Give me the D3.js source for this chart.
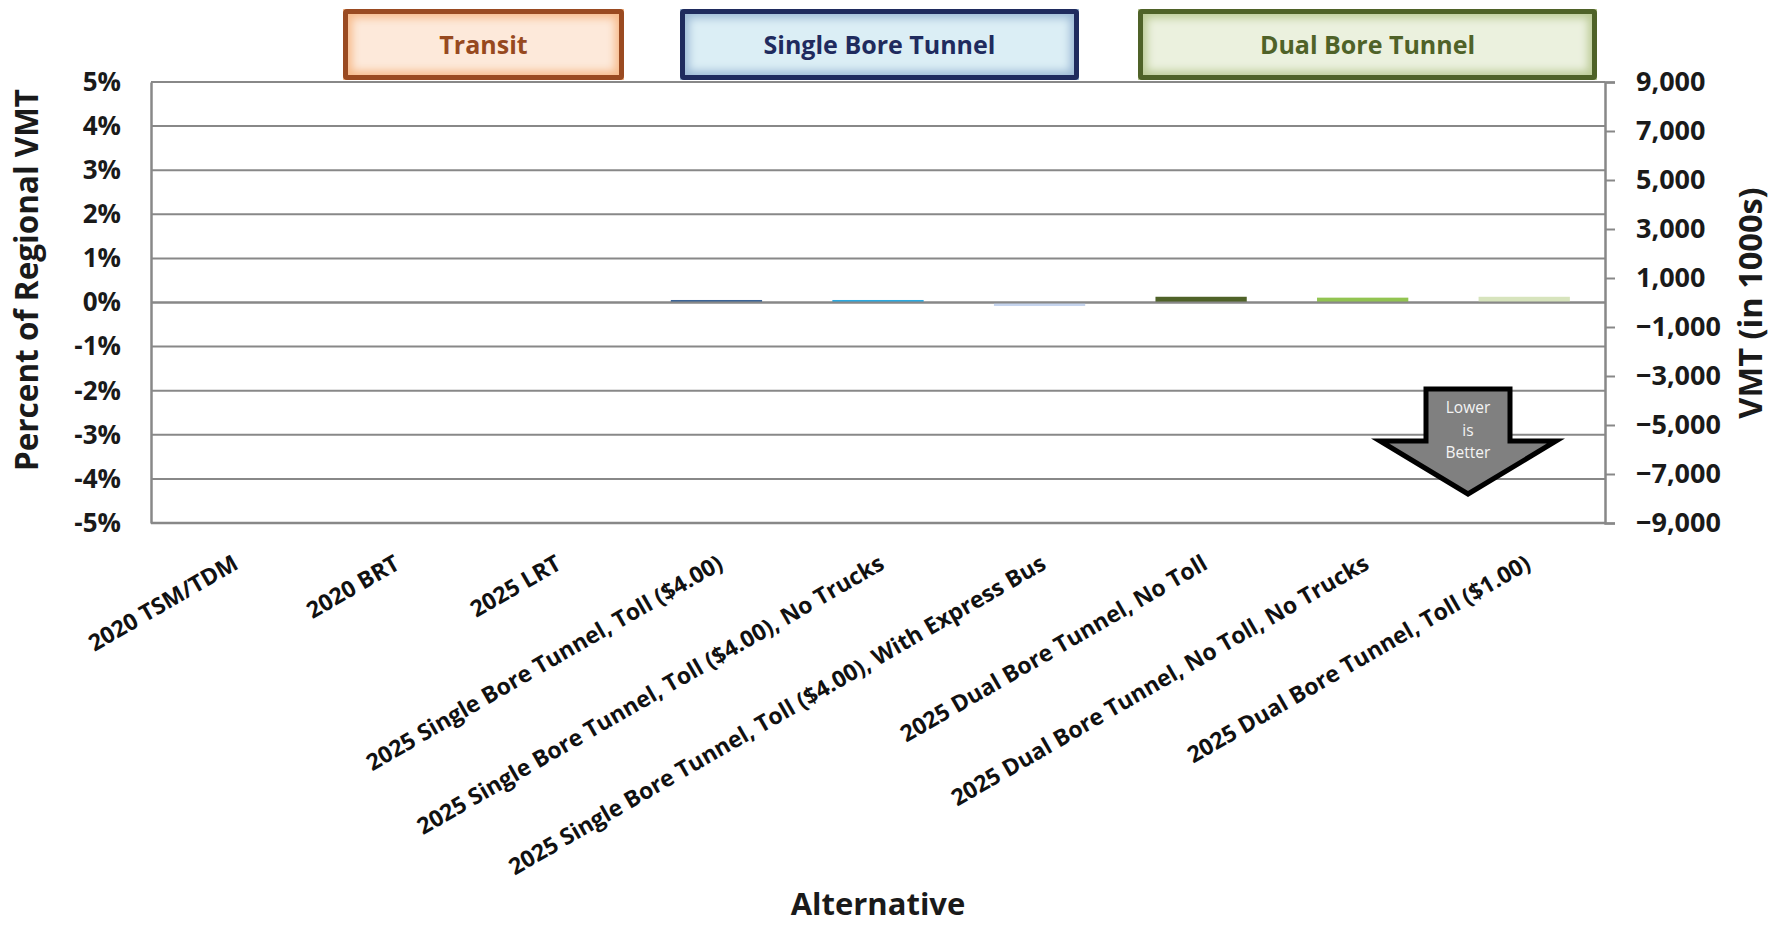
<!DOCTYPE html>
<html>
<head>
<meta charset="utf-8">
<script src="https://cdn.jsdelivr.net/npm/d3@7/dist/d3.min.js"></script>
<style>
  html, body { margin: 0; padding: 0; background: #ffffff; }
  svg { display: block; }
  text { font-family: "Open Sans", Lato, "DejaVu Sans", sans-serif; }
</style>
</head>
<body>
<svg id="chart" width="1785" height="925"></svg>
<script>
// Alternatives along the x axis
const categories = [
  "2020 TSM/TDM",
  "2020 BRT",
  "2025 LRT",
  "2025 Single Bore Tunnel, Toll ($4.00)",
  "2025 Single Bore Tunnel, Toll ($4.00), No Trucks",
  "2025 Single Bore Tunnel, Toll ($4.00), With Express Bus",
  "2025 Dual Bore Tunnel, No Toll",
  "2025 Dual Bore Tunnel, No Toll, No Trucks",
  "2025 Dual Bore Tunnel, Toll ($1.00)"
];
// Change in regional VMT, percent (null = no bar)
const percentChange = [null, null, null, 0.057, 0.057, -0.08, 0.13, 0.11, 0.13];
const barColors = ["#3a6496", "#3a6496", "#3a6496", "#3b6497", "#2aa9e0", "#c5d4ee", "#4f6228", "#92c451", "#d7e4bd"];

// Axis ticks
const percentTicks = [5, 4, 3, 2, 1, 0, -1, -2, -3, -4, -5];
const vmtTicks = [9000, 7000, 5000, 3000, 1000, -1000, -3000, -5000, -7000, -9000];

// Group banners across the top
const groups = [
  { label: "Transit", x0: 343, x1: 624, border: "#9a4a21", text: "#97491f", center: "#fde9da", edge: "#f7bb8c" },
  { label: "Single Bore Tunnel", x0: 680, x1: 1079, border: "#1f2b5e", text: "#1f2b5e", center: "#dbeef5", edge: "#9dbad6" },
  { label: "Dual Bore Tunnel", x0: 1138, x1: 1597, border: "#4f6228", text: "#4f6228", center: "#ebf1de", edge: "#bccb97" }
];

const svg = d3.select("#chart");
const plot = { left: 151, right: 1605, top: 82, bottom: 523 };
const gridColor = "#888888";
const ink = "#1a1a1a";

const x = d3.scaleBand().domain(categories).range([plot.left, plot.right]).padding(0);
const y = d3.scaleLinear().domain([-5, 5]).range([plot.bottom, plot.top]);
const y2 = d3.scaleLinear().domain([-9000, 9000]).range([plot.bottom, plot.top]);

// Horizontal gridlines
svg.append("g")
  .selectAll("line")
  .data(percentTicks)
  .join("line")
  .attr("x1", plot.left).attr("x2", plot.right)
  .attr("y1", d => y(d)).attr("y2", d => y(d))
  .attr("stroke", gridColor).attr("stroke-width", 2);

// Left axis (percent)
const leftAxis = svg.append("g")
  .attr("transform", `translate(${plot.left},0)`)
  .call(d3.axisLeft(y).tickValues(percentTicks).tickSize(0).tickPadding(30)
    .tickFormat(d => d + "%"));
leftAxis.select(".domain").attr("stroke", gridColor).attr("stroke-width", 2.5);
leftAxis.selectAll("text")
  .attr("font-size", 26).attr("font-weight", 700).attr("fill", ink)
  .attr("font-family", "'Open Sans', sans-serif");

// Right axis (VMT in 1000s)
const rightAxis = svg.append("g")
  .attr("transform", `translate(${plot.right},0)`)
  .call(d3.axisRight(y2).tickValues(vmtTicks).tickSize(10).tickPadding(21)
    .tickFormat(d3.format(",")));
rightAxis.select(".domain").attr("stroke", gridColor).attr("stroke-width", 2.5);
rightAxis.selectAll(".tick line").attr("stroke", gridColor).attr("stroke-width", 2);
rightAxis.selectAll("text")
  .attr("font-size", 27).attr("font-weight", 700).attr("fill", ink)
  .attr("font-family", "'Open Sans', sans-serif");

// Bottom frame line
svg.append("line")
  .attr("x1", plot.left).attr("x2", plot.right)
  .attr("y1", plot.bottom).attr("y2", plot.bottom)
  .attr("stroke", gridColor).attr("stroke-width", 2.5);

// Bars
const barFrac = 0.565;
const barData = categories.map((c, i) => ({ c, v: percentChange[i], color: barColors[i] }))
  .filter(d => d.v !== null);
svg.append("g")
  .selectAll("rect")
  .data(barData)
  .join("rect")
  .attr("x", d => x(d.c) + x.bandwidth() * (1 - barFrac) / 2)
  .attr("width", x.bandwidth() * barFrac)
  .attr("y", d => y(Math.max(0, d.v)))
  .attr("height", d => Math.abs(y(d.v) - y(0)))
  .attr("fill", d => d.color);

// Zero line on top of the bars
svg.append("line")
  .attr("x1", plot.left).attr("x2", plot.right)
  .attr("y1", y(0)).attr("y2", y(0))
  .attr("stroke", gridColor).attr("stroke-width", 2);

// Category labels, rotated
svg.append("g")
  .selectAll("text")
  .data(categories)
  .join("text")
  .attr("transform", d => `translate(${x(d) + x.bandwidth() / 2 + 8},${plot.bottom + 45}) rotate(-30)`)
  .attr("text-anchor", "end")
  .attr("font-size", 23).attr("font-weight", 700).attr("fill", "#111")
  .text(d => d);

// Axis titles
svg.append("text")
  .attr("transform", `translate(38,280) rotate(-90)`)
  .attr("text-anchor", "middle")
  .attr("font-size", 31.5).attr("font-weight", 700).attr("fill", ink)
  .text("Percent of Regional VMT");

svg.append("text")
  .attr("transform", `translate(1762,303) rotate(-90)`)
  .attr("text-anchor", "middle")
  .attr("font-size", 32.5).attr("font-weight", 700).attr("fill", ink)
  .text("VMT (in 1000s)");

svg.append("text")
  .attr("x", 878).attr("y", 915)
  .attr("text-anchor", "middle")
  .attr("font-size", 31).attr("font-weight", 700).attr("fill", ink)
  .text("Alternative");

// Group banners with a soft inner glow
const defs = svg.append("defs");
defs.append("filter").attr("id", "soften")
  .attr("x", "-10%").attr("y", "-30%").attr("width", "120%").attr("height", "160%")
  .append("feGaussianBlur").attr("stdDeviation", 4);

const bannerTop = 9, bannerBottom = 80;
groups.forEach((g, i) => {
  const cp = defs.append("clipPath").attr("id", "clip" + i);
  cp.append("rect").attr("x", g.x0).attr("y", bannerTop)
    .attr("width", g.x1 - g.x0).attr("height", bannerBottom - bannerTop);
  const grp = svg.append("g");
  const inner = grp.append("g").attr("clip-path", `url(#clip${i})`);
  inner.append("rect").attr("x", g.x0).attr("y", bannerTop)
    .attr("width", g.x1 - g.x0).attr("height", bannerBottom - bannerTop)
    .attr("fill", g.edge);
  inner.append("rect").attr("x", g.x0 + 9).attr("y", bannerTop + 9)
    .attr("width", g.x1 - g.x0 - 18).attr("height", bannerBottom - bannerTop - 18)
    .attr("fill", g.center).attr("filter", "url(#soften)");
  grp.append("rect").attr("x", g.x0 + 2.5).attr("y", bannerTop + 2.5)
    .attr("width", g.x1 - g.x0 - 5).attr("height", bannerBottom - bannerTop - 5)
    .attr("rx", 1.5)
    .attr("fill", "none").attr("stroke", g.border).attr("stroke-width", 5);
  grp.append("text")
    .attr("x", (g.x0 + g.x1) / 2).attr("y", (bannerTop + bannerBottom) / 2 + 9)
    .attr("text-anchor", "middle")
    .attr("font-size", 25).attr("font-weight", 700).attr("fill", g.text)
    .text(g.label);
});

// "Lower is Better" arrow
const arrow = { cx: 1468, top: 389, shoulder: 441, tip: 494, stemHalf: 42, wingHalf: 88 };
const arrowPath = d3.path();
arrowPath.moveTo(arrow.cx - arrow.stemHalf, arrow.top);
arrowPath.lineTo(arrow.cx + arrow.stemHalf, arrow.top);
arrowPath.lineTo(arrow.cx + arrow.stemHalf, arrow.shoulder);
arrowPath.lineTo(arrow.cx + arrow.wingHalf, arrow.shoulder);
arrowPath.lineTo(arrow.cx, arrow.tip);
arrowPath.lineTo(arrow.cx - arrow.wingHalf, arrow.shoulder);
arrowPath.lineTo(arrow.cx - arrow.stemHalf, arrow.shoulder);
arrowPath.closePath();
svg.append("path")
  .attr("d", arrowPath.toString())
  .attr("fill", "#808080").attr("stroke", "#000").attr("stroke-width", 5)
  .attr("stroke-linejoin", "miter");
["Lower", "is", "Better"].forEach((t, i) => {
  svg.append("text")
    .attr("x", arrow.cx).attr("y", 413 + i * 22.5)
    .attr("text-anchor", "middle")
    .attr("font-size", 15.5).attr("fill", "#f4f4f4")
    .text(t);
});
</script>
</body>
</html>
